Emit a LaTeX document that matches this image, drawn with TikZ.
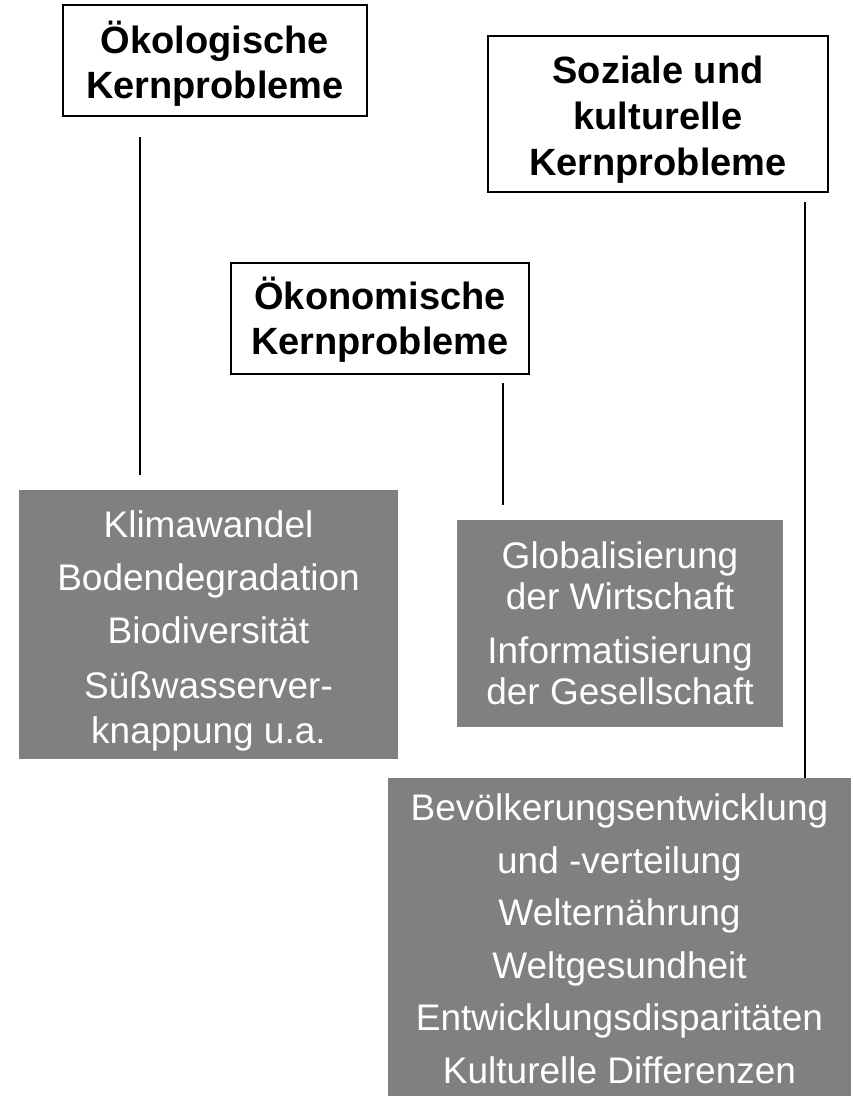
\documentclass[tikz,border=0pt]{standalone}
\usepackage{fontspec}
\setmainfont{Liberation Sans}
\definecolor{boxgray}{HTML}{808080}
\begin{document}
\begin{tikzpicture}[x=1pt,y=-1pt,
  headbox/.style={draw=black, line width=1.6pt, fill=white, inner sep=0pt},
  headtext/.style={inner sep=0pt, align=center, font=\fontsize{38}{45}\selectfont\bfseries},
  graybox/.style={fill=boxgray, inner sep=0pt},
  graytext/.style={text=white, inner sep=0pt, align=center, font=\fontsize{37}{52}\selectfont},
  conn/.style={draw=black, line width=1.5pt}]
\useasboundingbox (0,0) rectangle (853,1096);
% header boxes
\node[headbox, minimum width=304pt, minimum height=111pt] (oeko) at (215,60.5) {};
\node[headtext] (oekoT) at (215,64) {Ökologische\\Kernprobleme};
\node[headbox, minimum width=340pt, minimum height=156pt] (sozial) at (658,114) {};
\node[headtext, font=\fontsize{38}{46}\selectfont\bfseries] (sozialT) at (658,120)
  {Soziale und\\kulturelle\\Kernprobleme};
\node[headbox, minimum width=298pt, minimum height=111pt] (oekon) at (380,318.5) {};
\node[headtext] (oekonT) at (380,320) {Ökonomische\\Kernprobleme};
% gray boxes
\node[graybox, minimum width=379pt, minimum height=269pt] (g1) at (208.5,624.5) {};
\node[graytext, font=\fontsize{37}{45}\selectfont] (g1T) at (208.5,631)
  {Klimawandel\\[8pt]Bodendegradation\\[8pt]Biodiversität\\[10pt]Süßwasserver-\\knappung u.a.};
\node[graybox, minimum width=326pt, minimum height=207pt] (g2) at (620,623.5) {};
\node[graytext, font=\fontsize{37}{41}\selectfont] (g2T) at (620,623.5)
  {Globalisierung\\der Wirtschaft\\[13pt]Informatisierung\\der Gesellschaft};
\node[graybox, minimum width=463pt, minimum height=318pt] (g3) at (619.5,937) {};
\node[graytext, font=\fontsize{37}{52.5}\selectfont] (g3T) at (619.5,939)
  {Bevölkerungsentwicklung\\und -verteilung\\Welternährung\\Weltgesundheit\\Entwicklungsdisparitäten\\Kulturelle Differenzen};
% connectors
\coordinate (c1a) at (140,137);
\coordinate (c1b) at (140,475);
\coordinate (c2a) at (503,383);
\coordinate (c2b) at (503,505);
\coordinate (c3a) at (805,202);
\coordinate (c3b) at (805,778);
\draw[conn] (c1a) -- (c1b);
\draw[conn] (c2a) -- (c2b);
\draw[conn] (c3a) -- (c3b);
\end{tikzpicture}
\end{document}
